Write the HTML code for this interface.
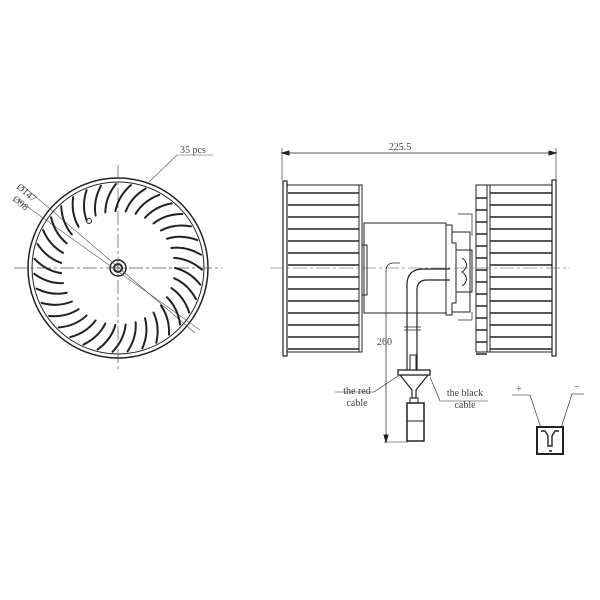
<!DOCTYPE html>
<html><head><style>body{margin:0;background:#fff}svg{display:block}text{font-family:"Liberation Serif",serif;font-size:10px;fill:#444;stroke:none}</style></head>
<body>
<svg id="s" width="600" height="600" viewBox="0 0 600 600" stroke="#222" fill="none" stroke-width="1">
<g id="wheel">
<circle cx="118" cy="268" r="90" stroke-width="1.5"/>
<circle cx="118" cy="268" r="86"/>
<circle cx="118" cy="268" r="8" stroke-width="1.5"/>
<circle cx="118" cy="268" r="4" stroke-width="2"/>
<circle cx="89" cy="221" r="2.5"/>
<line x1="14" y1="268" x2="222" y2="268" stroke="#555" stroke-dasharray="14,3,3,3" stroke-width="0.7"/>
<line x1="118" y1="165" x2="118" y2="372" stroke="#555" stroke-dasharray="14,3,3,3" stroke-width="0.7"/>
<line x1="22" y1="185" x2="195" y2="333" stroke="#555" stroke-width="0.6"/>
<line x1="18" y1="200" x2="200" y2="330" stroke="#555" stroke-width="0.6"/>
<line x1="148" y1="183" x2="177" y2="155" stroke="#555" stroke-width="0.6"/>
<line x1="177" y1="155" x2="213" y2="155" stroke="#555" stroke-width="0.6"/>
<text x="180" y="153">35 pcs</text>
<text x="16" y="188" transform="rotate(40 16 188)" font-size="9">Ø147</text>
<text x="12" y="200" transform="rotate(40 12 200)" font-size="9">Ø98</text>
</g>
<line x1="282" y1="153" x2="556" y2="153" stroke-width="0.7"/>
<line x1="282" y1="148" x2="282" y2="180" stroke-width="0.6"/>
<line x1="556" y1="148" x2="556" y2="180" stroke-width="0.6"/>
<path d="M282 153l7-2v4zM556 153l-7-2v4z" fill="#222"/>
<text x="400" y="150" text-anchor="middle">225.5</text>
<rect x="283" y="181" width="4" height="175" stroke-width="1.2"/>
<rect x="287" y="185" width="72" height="167"/>
<rect x="359" y="185" width="3" height="167"/>
<g id="lb" stroke-width="1.6"></g>
<rect x="552" y="180" width="4" height="176" stroke-width="1.2"/>
<rect x="476" y="185" width="76" height="167"/>
<line x1="490" y1="185" x2="490" y2="352"/>
<line x1="487" y1="185" x2="487" y2="352"/>
<g id="rb" stroke-width="1.6"></g>
<path d="M364 223H446V313H364Z"/>
<rect x="362" y="245" width="5" height="50"/>
<path d="M446 225h6v18h4v60h-4v12h-6z"/>
<path d="M452 232h18v80h-18" />
<path d="M458 214h14v22M458 320h14v-8" stroke-width="0.7"/>
<path d="M456 250h16v42h-16z" />
<path d="M462 258c6 4 6 10 0 14 6 4 6 10 0 14" />
<line x1="270" y1="268" x2="570" y2="268" stroke="#555" stroke-dasharray="14,3,3,3" stroke-width="0.6"/>
<path d="M407 370V285q0-16 16-16H450M417 370V290q0-10 10-10H450" stroke-width="1.2"/>
<line x1="404" y1="327" x2="421" y2="327" stroke-width="0.7"/><line x1="404" y1="330" x2="421" y2="330" stroke-width="0.7"/>
<rect x="410" y="355" width="6" height="15"/>
<rect x="398" y="370" width="32" height="5" stroke-width="1.3"/>
<path d="M400 375L412 390V398H416V390L428 375" stroke-width="1.2"/>
<rect x="410" y="398" width="8" height="5"/>
<rect x="407" y="403" width="17" height="38" stroke-width="1.5"/>
<line x1="407" y1="421" x2="424" y2="421"/>
<path d="M400 263H394q-8 0-8 8V442" stroke-width="0.7"/>
<line x1="384" y1="442" x2="408" y2="442" stroke-width="0.6"/>
<path d="M386 442l-2-7h4z" fill="#222"/>
<text x="377" y="345" font-size="11">260</text>
<line x1="335" y1="392" x2="374" y2="392" stroke-width="0.6"/><line x1="374" y1="392" x2="398" y2="376" stroke-width="0.6"/>
<text x="357" y="394" text-anchor="middle">the red</text><text x="357" y="406" text-anchor="middle">cable</text>
<line x1="440" y1="401" x2="430" y2="377" stroke-width="0.6"/><line x1="440" y1="401" x2="488" y2="401" stroke-width="0.6"/>
<text x="465" y="396" text-anchor="middle">the black</text><text x="465" y="408" text-anchor="middle">cable</text>
<line x1="512" y1="395" x2="530" y2="395" stroke-width="0.6"/><line x1="530" y1="395" x2="541" y2="428" stroke-width="0.6"/>
<line x1="572" y1="394" x2="584" y2="394" stroke-width="0.6"/><line x1="572" y1="394" x2="561" y2="428" stroke-width="0.6"/>
<text x="516" y="392" font-size="9">+</text><text x="574" y="390" font-size="9">−</text>
<rect x="537" y="427" width="26" height="27" stroke-width="2"/>
<path d="M541 431h4l3 5v10h4v-10l3-5h4M549 451h3" stroke-width="1.4"/>
</svg>
<script>
var ns="http://www.w3.org/2000/svg",s=document.getElementById("s");
function add(p,a){var e=document.createElementNS(ns,"path");e.setAttribute("d",a);p.appendChild(e);}
var w=document.getElementById("wheel");
for(var i=0;i<35;i++){var t=i*2*Math.PI/35,r1=57,r2=84;
var x1=118+r1*Math.cos(t),y1=268+r1*Math.sin(t),x2=118+r2*Math.cos(t+0.2),y2=268+r2*Math.sin(t+0.2);
var mx=118+72*Math.cos(t+0.05),my=268+72*Math.sin(t+0.05);
var e=document.createElementNS(ns,"path");e.setAttribute("d","M"+x1+" "+y1+"Q"+mx+" "+my+" "+x2+" "+y2);e.setAttribute("stroke-width","2");e.setAttribute("stroke-linecap","round");w.appendChild(e);}
var lb=document.getElementById("lb"),rb=document.getElementById("rb");
for(var y=193;y<352;y+=12){add(lb,"M288 "+y+"H359");add(rb,"M490 "+y+"H552M476 "+(y+5)+"H487");}
</script>
</body></html>
